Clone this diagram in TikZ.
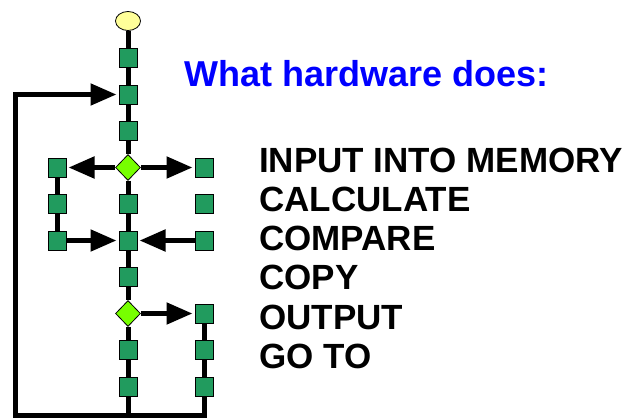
\documentclass[tikz,border=0pt]{standalone}
\usepackage{fontspec}
\setmainfont{Liberation Sans}
\usetikzlibrary{arrows.meta,shapes.geometric}
\definecolor{hwgreen}{HTML}{219B5E}
\definecolor{hwlime}{HTML}{77FF00}
\definecolor{hwyellow}{HTML}{FFFF99}
\definecolor{hwblue}{HTML}{0000FF}

\begin{document}
\begin{tikzpicture}[x=1pt,y=-1pt,
    block/.style={draw=black,fill=hwgreen,line width=1pt,minimum width=18pt,minimum height=19pt,inner sep=0pt},
    branch/.style={diamond,draw=black,fill=hwlime,line width=0.8pt,minimum width=25pt,minimum height=26pt,inner sep=0pt},
    startpt/.style={ellipse,draw=black,fill=hwyellow,line width=0.8pt,minimum width=25pt,minimum height=19pt,inner sep=0pt},
    flow/.style={line width=5pt},
    flowto/.style={line width=5pt,-{Triangle[length=26pt 0 0,width=21pt 0 0]},shorten >=2pt},
    opline/.style={anchor=base west,inner sep=0pt,font=\bfseries\fontsize{35}{40}\selectfont}]
    \useasboundingbox (0,0) rectangle (629,420);
    % main column
    \node[startpt] (m0) at (128,21) {};
    \node[block] (m1) at (128,58) {};
    \node[block] (m2) at (128,94.5) {};
    \node[block] (m3) at (128,131) {};
    \node[branch] (m4) at (128,167.5) {};
    \node[block] (m5) at (128,204) {};
    \node[block] (m6) at (128,240.5) {};
    \node[block] (m7) at (128,277) {};
    \node[branch] (m8) at (128,313.5) {};
    \node[block] (m9) at (128,350) {};
    \node[block] (m10) at (128,386.5) {};
    % side columns
    \node[block] (l4) at (57,167.5) {};
    \node[block] (l5) at (57,204) {};
    \node[block] (l6) at (57,240.5) {};
    \node[block] (r4) at (204,167.5) {};
    \node[block] (r5) at (204,204) {};
    \node[block] (r6) at (204,240.5) {};
    \node[block] (r8) at (204,313.5) {};
    \node[block] (r9) at (204,350) {};
    \node[block] (r10) at (204,386.5) {};
    \coordinate (botL) at (15,415);
    \coordinate (botM) at (128,415);
    \coordinate (botR) at (204,415);
    % connectors
    \draw[flow] (m0) -- (m1);
    \draw[flow] (m1) -- (m2);
    \draw[flow] (m2) -- (m3);
    \draw[flow] (m3) -- (m4);
    \draw[flow] (m4) -- (m5);
    \draw[flow] (m5) -- (m6);
    \draw[flow] (m6) -- (m7);
    \draw[flow] (m7) -- (m8);
    \draw[flow] (m8) -- (m9);
    \draw[flow] (m9) -- (m10);
    \draw[flow] (m10) -- (botM);
    \draw[flowto] (m4) -- (l4);
    \draw[flowto] (m4) -- (r4);
    \draw[flow] (l4) -- (l5);
    \draw[flow] (l5) -- (l6);
    \draw[flowto] (l6) -- (m6);
    \draw[flowto] (r6) -- (m6);
    \draw[flowto] (m8) -- (r8);
    \draw[flow] (r8) -- (r9);
    \draw[flow] (r9) -- (r10);
    \draw[flowto] (r10) -- (botR) -- (botL) |- (m2);
    % texts
    \node[opline,text=hwblue,font=\bfseries\fontsize{36}{40}\selectfont] (title) at (184,86.5) {What hardware does:};
    \node[opline] (input) at (259,172) {INPUT INTO MEMORY};
    \node[opline] (calc) at (259,211.5) {CALCULATE};
    \node[opline] (comp) at (259,250.5) {COMPARE};
    \node[opline] (copy) at (259,289.5) {COPY};
    \node[opline] (output) at (259,329.5) {OUTPUT};
    \node[opline] (goto) at (259,368.5) {GO TO};
\end{tikzpicture}
\end{document}
